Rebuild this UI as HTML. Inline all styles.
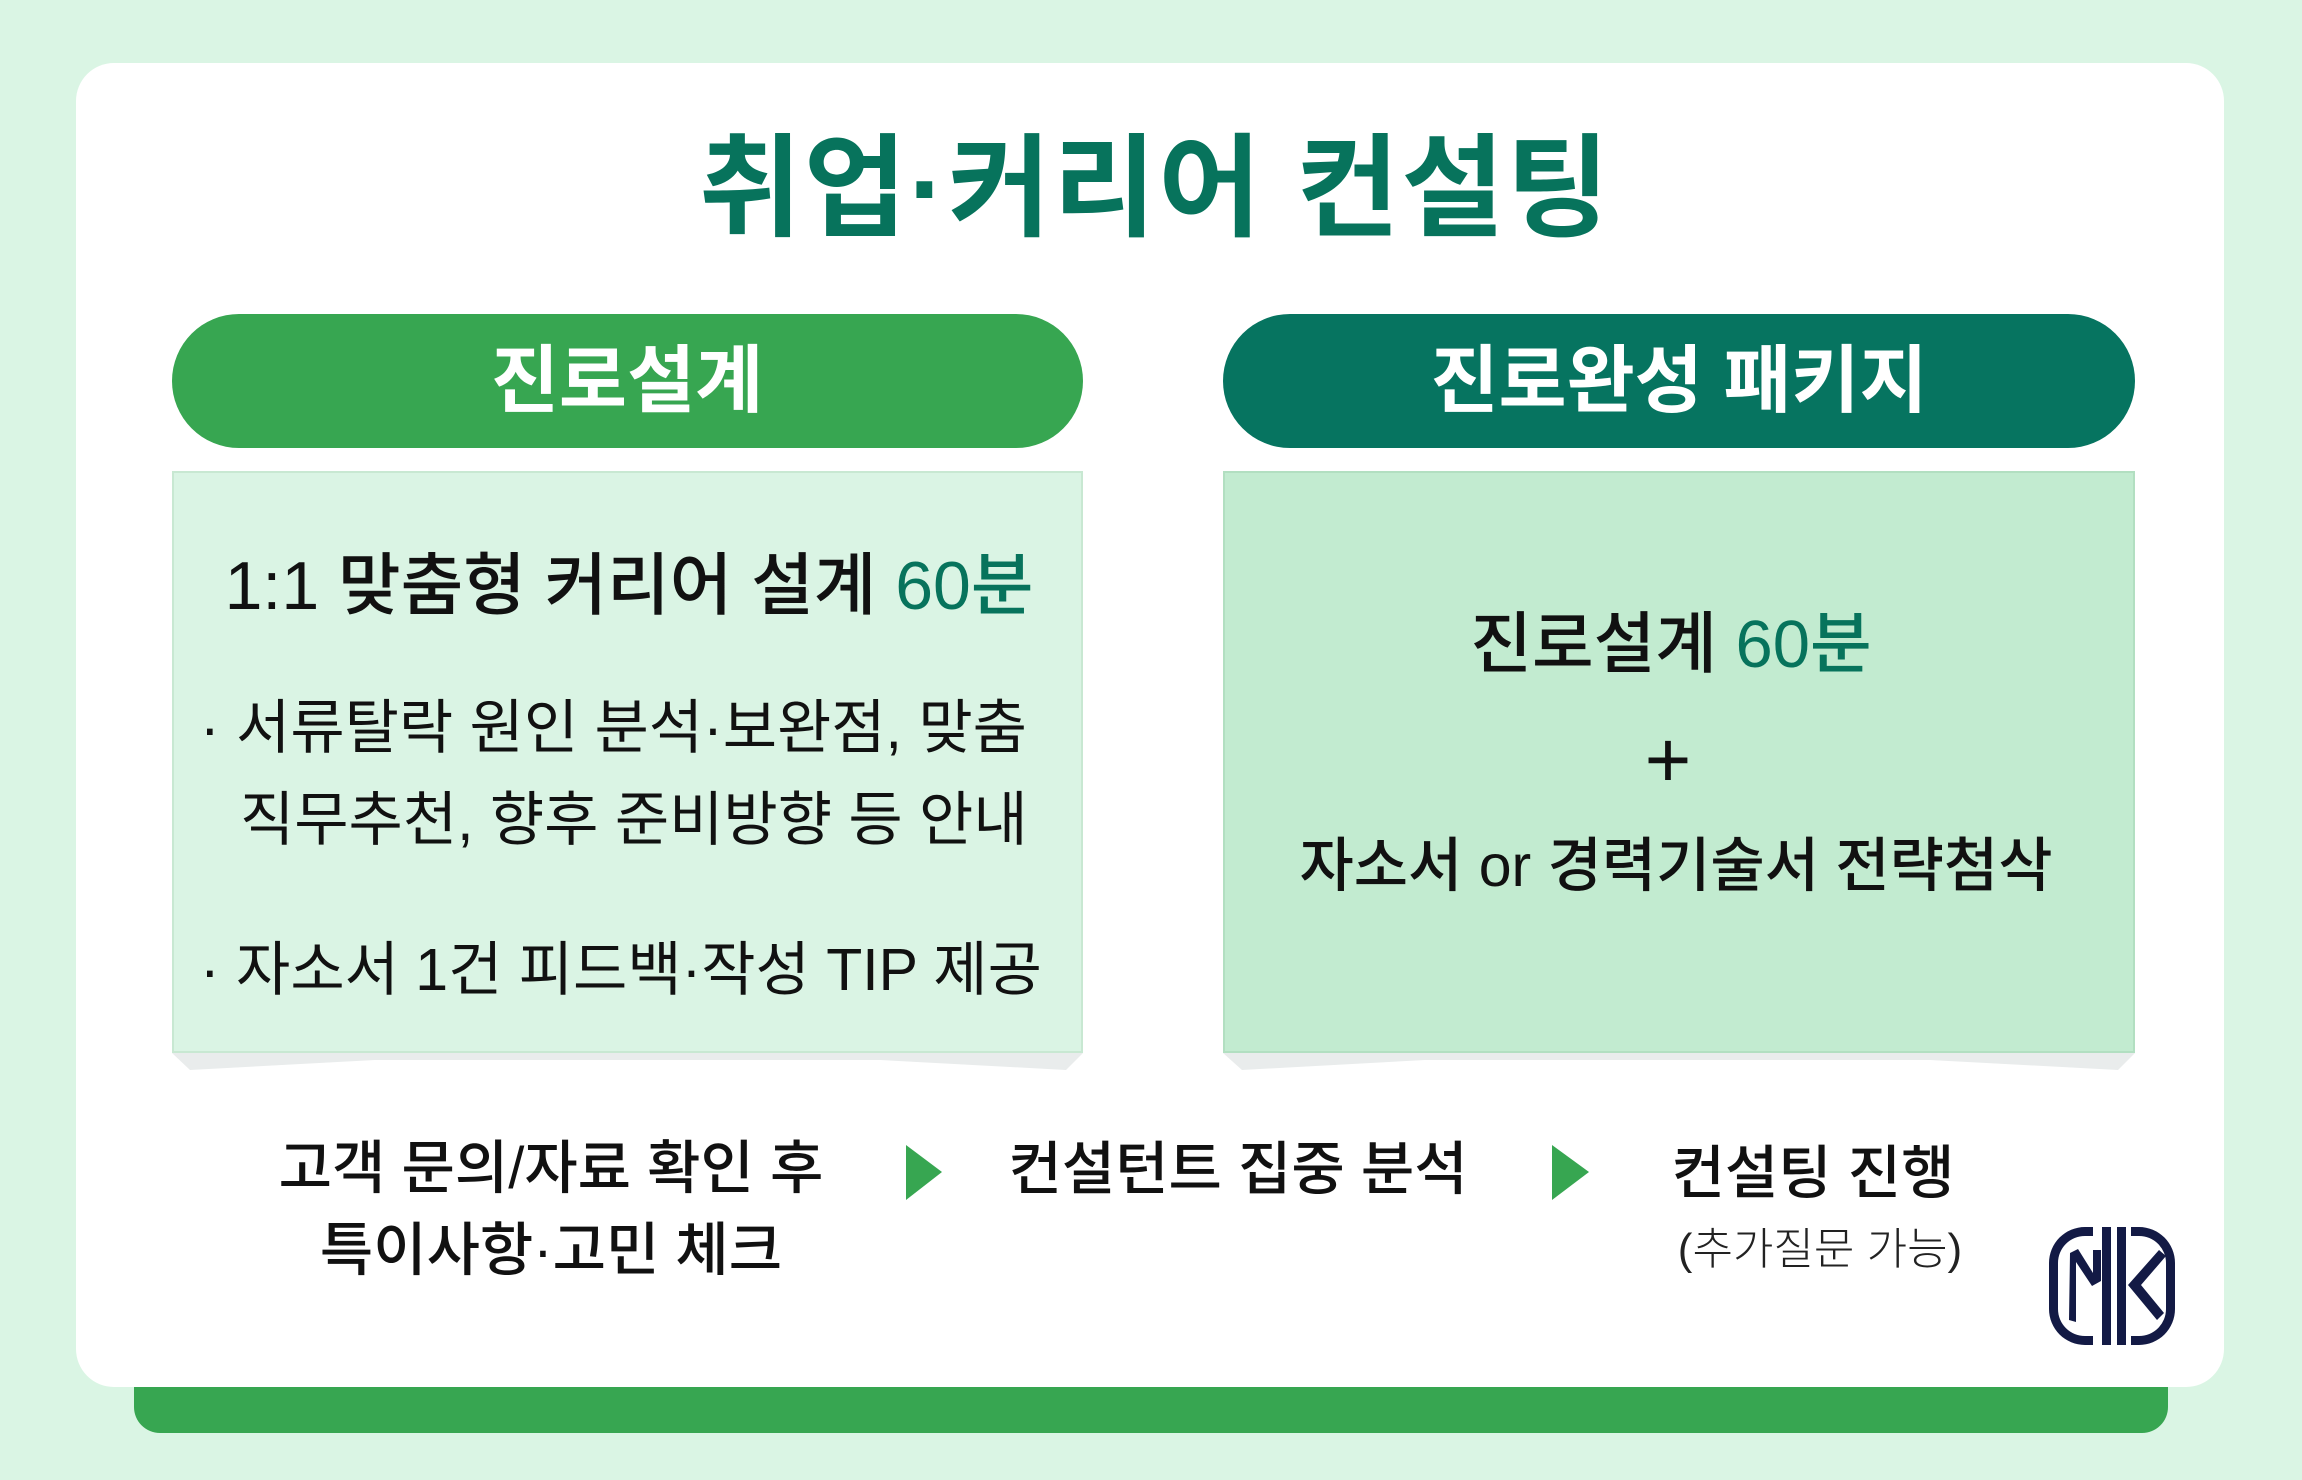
<!DOCTYPE html>
<html><head><meta charset="utf-8"><style>
*{margin:0;padding:0;box-sizing:border-box}
body{width:2302px;height:1480px;background:#daf5e4;position:relative;overflow:hidden;font-family:"Liberation Sans","Noto Sans CJK KR",sans-serif}
.a{position:absolute}
.t{position:absolute;white-space:nowrap;text-align:center;transform:translateX(-50%)}
</style></head><body>
<div class="a" style="left:134px;top:1350px;width:2034px;height:83px;background:#37a651;border-radius:0 0 26px 26px"></div>
<div class="a" style="left:76px;top:63px;width:2148px;height:1324px;background:#fff;border-radius:38px"></div>
<div class="t" style="left:1155px;top:114px;font-size:112px;font-weight:700;color:#07735c;line-height:150px;letter-spacing:2px">취업·커리어 컨설팅</div>

<div class="a" style="left:172px;top:314px;width:911px;height:134px;background:#37a651;border-radius:67px"></div>
<div class="t" style="left:627px;top:336px;font-size:74px;font-weight:700;color:#fff;line-height:90px">진로설계</div>
<div class="a" style="left:1223px;top:314px;width:912px;height:134px;background:#067460;border-radius:67px"></div>
<div class="t" style="left:1679px;top:336px;font-size:74px;font-weight:700;color:#fff;line-height:90px">진로완성 패키지</div>

<svg class="a" style="left:0;top:0" width="2302" height="1480">
<polygon points="172,1053 1083,1053 1066,1070 880,1060 375,1060 190,1070" fill="#e9ecec"/>
<polygon points="1223,1053 2135,1053 2118,1070 1930,1060 1425,1060 1242,1070" fill="#e9ecec"/>
<polygon points="906,1145 942,1172 906,1200" fill="#37a651"/>
<polygon points="1552,1145 1589,1172 1552,1200" fill="#37a651"/>
<g fill="#131a45">
<path d="M2081,1227 h-8 a36,36 0 0 0 -36,36 v46 a36,36 0 0 0 36,36 h8 v-9 h-8 a27,27 0 0 1 -27,-27 v-46 a27,27 0 0 1 27,-27 h8 z" transform="translate(12,0)"/>
<path d="M2135,1227 h8 a36,36 0 0 1 36,36 v46 a36,36 0 0 1 -36,36 h-8 v-9 h8 a27,27 0 0 0 27,-27 v-46 a27,27 0 0 0 -27,-27 h-8 z" transform="translate(-4,0)"/>
<rect x="2102" y="1227" width="9" height="118"/>
<rect x="2117" y="1227" width="9" height="118"/>
<polygon points="2070,1253 2078,1249 2093,1273 2093,1250 2101,1250 2101,1281 2092,1286 2076,1262 2076,1322 2069,1320"/>
<polygon points="2159,1250 2166,1256 2141,1285 2164,1313 2157,1320 2128,1285"/>
</g>
</svg>

<div class="a" style="left:172px;top:471px;width:911px;height:582px;background:#daf4e4;border:2px solid #c8e8d2"></div>
<div class="a" style="left:1223px;top:471px;width:912px;height:582px;background:#c2ebd0;border:2px solid #b2dfc1"></div>

<div class="t" style="left:629px;top:544px;font-size:68px;font-weight:500;color:#111;line-height:84px">1:1 맞춤형 커리어 설계 <span style="color:#07735c">60분</span></div>
<div class="a" style="left:200px;top:688px;font-size:59px;color:#111;line-height:80px;white-space:nowrap">· 서류탈락 원인 분석·보완점, 맞춤</div>
<div class="a" style="left:240px;top:780px;font-size:59px;color:#111;line-height:80px;white-space:nowrap">직무추천, 향후 준비방향 등 안내</div>
<div class="a" style="left:200px;top:930px;font-size:59px;color:#111;line-height:80px;white-space:nowrap">· 자소서 1건 피드백·작성 TIP 제공</div>

<div class="t" style="left:1671px;top:603px;font-size:67px;font-weight:500;color:#111;line-height:84px">진로설계 <span style="color:#07735c">60분</span></div>
<div class="t" style="left:1668px;top:715px;font-size:80px;font-weight:500;color:#111;line-height:90px">+</div>
<div class="t" style="left:1676px;top:824px;font-size:59px;font-weight:500;color:#111;line-height:84px">자소서 or 경력기술서 전략첨삭</div>

<div class="t" style="left:551px;top:1131px;font-size:58px;font-weight:500;color:#111;line-height:76px">고객 문의/자료 확인 후</div>
<div class="t" style="left:551px;top:1213px;font-size:58px;font-weight:500;color:#111;line-height:76px">특이사항·고민 체크</div>
<div class="t" style="left:1238px;top:1132px;font-size:58px;font-weight:500;color:#111;line-height:76px">컨설턴트 집중 분석</div>
<div class="t" style="left:1813px;top:1136px;font-size:58px;font-weight:500;color:#111;line-height:76px">컨설팅 진행</div>
<div class="t" style="left:1820px;top:1220px;font-size:44px;font-weight:300;color:#222;line-height:60px">(추가질문 가능)</div>
</body></html>
